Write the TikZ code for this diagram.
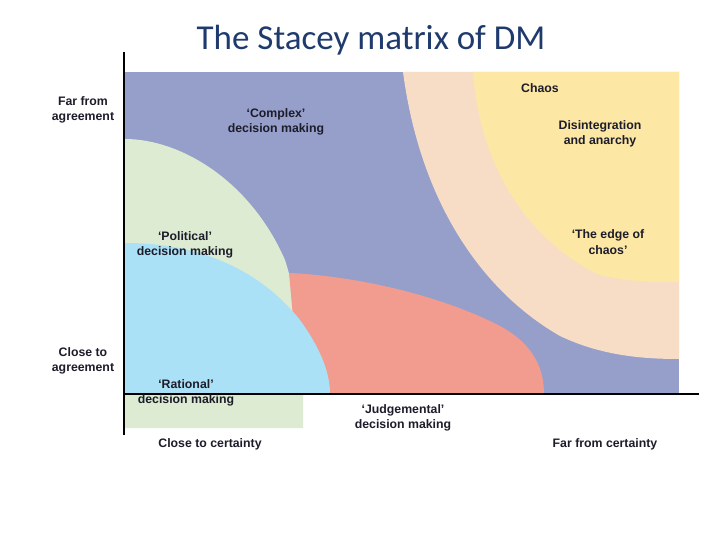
\documentclass[tikz,border=0pt]{standalone}
\usepackage{fontspec}
\setmainfont{Liberation Sans}
\newfontfamily\titlefont{Carlito}
\definecolor{cblue}{HTML}{959FCA}
\definecolor{cpeach}{HTML}{F8DDC6}
\definecolor{cyell}{HTML}{FCE7A4}
\definecolor{cgreen}{HTML}{DCEBD2}
\definecolor{ccyan}{HTML}{ABE1F6}
\definecolor{cred}{HTML}{F29B8F}
\definecolor{ctitle}{HTML}{1F3B6E}
\definecolor{ctext}{HTML}{1C1C2A}
\begin{document}
\begin{tikzpicture}[x=1pt,y=-1pt,
  lab/.style={text=ctext,align=center,font=\fontsize{12.3}{15.5}\selectfont\bfseries,inner sep=0pt},
  axis/.style={line width=2pt,black}]
\useasboundingbox (0,0) rectangle (720,540);
\fill[white] (0,0) rectangle (720,540);
\node[font=\titlefont\fontsize{35}{40}\selectfont,text=ctitle] (title) at (371,40) {The Stacey matrix of DM};
% regions
\fill[cblue] (125,72) rectangle (679,394);
\fill[cpeach] (403,72) .. controls (420,200) and (480,290) .. (560,336) .. controls (600,355) and (640,359) .. (679,359) -- (679,72) -- cycle;
\fill[cyell] (473,72) .. controls (480,170) and (530,240) .. (597,274) .. controls (625,282) and (655,282) .. (679,282) -- (679,72) -- cycle;
\fill[cgreen] (125,139) .. controls (180,139) and (250,180) .. (285,260) .. controls (298,300) and (303,350) .. (303,394) -- (303,428) -- (125,428) -- cycle;
\fill[cred] (289,273) .. controls (340,275) and (430,290) .. (500,326) .. controls (535,345) and (544,370) .. (544,394) -- (300,394) -- cycle;
\fill[ccyan] (125,243) .. controls (200,243) and (260,270) .. (300,320) .. controls (318,345) and (330,370) .. (330,394) -- (125,394) -- cycle;
% axes
\coordinate (o) at (124,394);
\coordinate (ytop) at (124,52);
\coordinate (ybot) at (124,435);
\coordinate (xend) at (699,394);
\draw[axis] (ytop) -- (ybot);
\draw[axis] (o) -- (xend);
% labels
\node[lab] (far) at (83,110) {Far from\\agreement};
\node[lab] (close) at (83,361) {Close to\\agreement};
\node[lab] (cc) at (210,444) {Close to certainty};
\node[lab] (fc) at (605,444) {Far from certainty};
\node[lab] (complex) at (276,122) {‘Complex’\\decision making};
\node[lab] (chaos) at (540,88) {Chaos};
\node[lab] (dis) at (600,134) {Disintegration\\and anarchy};
\node[lab] (pol) at (185,245) {‘Political’\\decision making};
\node[lab] (edge) at (608,242) {‘The edge of\\chaos’};
\node[lab] (rat) at (186,393) {‘Rational’\\decision making};
\node[lab] (jud) at (403,418) {‘Judgemental’\\decision making};
\end{tikzpicture}
\end{document}
